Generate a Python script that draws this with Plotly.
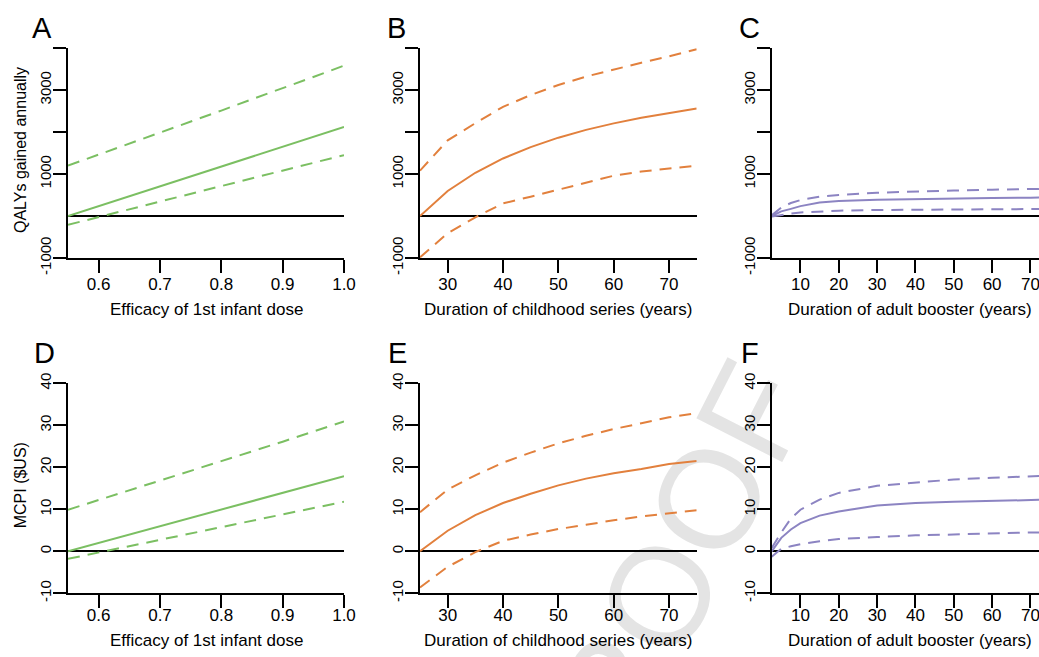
import plotly.graph_objects as go

W, H = 1039, 657

# ---------------- data ----------------
efficacy = [0.55, 0.6, 0.65, 0.7, 0.75, 0.8, 0.85, 0.9, 0.95, 1.0]
childhood = [25, 30, 35, 40, 45, 50, 55, 60, 65, 70, 75]
booster = [2.5, 5, 7.5, 10, 15, 20, 30, 40, 50, 60, 70, 75]

qaly_eff_mid = [0, 236, 471, 710, 942, 1178, 1413, 1649, 1884, 2120]
qaly_eff_hi = [1200, 1460, 1720, 1990, 2250, 2510, 2780, 3040, 3310, 3580]
qaly_eff_lo = [-210, -25, 160, 345, 530, 715, 900, 1085, 1265, 1450]

qaly_child_mid = [0, 595, 1030, 1370, 1640, 1865, 2050, 2205, 2340, 2450, 2560]
qaly_child_hi = [1080, 1800, 2210, 2600, 2880, 3120, 3320, 3490, 3650, 3800, 3970]
qaly_child_lo = [-985, -410, -30, 300, 460, 630, 800, 960, 1060, 1135, 1200]

qaly_boost_mid = [0, 110, 170, 235, 320, 357, 385, 405, 418, 428, 436, 440]
qaly_boost_hi = [15, 200, 310, 380, 460, 500, 555, 585, 605, 625, 643, 650]
qaly_boost_lo = [-15, 30, 60, 85, 110, 127, 143, 152, 159, 163, 167, 168]

mcpi_eff_mid = [0, 2.0, 4.0, 6.0, 8.0, 9.9, 11.9, 13.9, 15.9, 17.9]
mcpi_eff_hi = [9.9, 12.2, 14.5, 16.8, 19.2, 21.5, 23.8, 26.1, 28.5, 30.9]
mcpi_eff_lo = [-1.8, -0.3, 1.2, 2.7, 4.2, 5.7, 7.3, 8.8, 10.3, 11.8]

mcpi_child_mid = [0, 4.9, 8.6, 11.5, 13.7, 15.7, 17.3, 18.6, 19.6, 20.8, 21.5]
mcpi_child_hi = [9.3, 14.7, 18.1, 21.1, 23.5, 25.7, 27.5, 29.1, 30.5, 31.9, 32.9]
mcpi_child_lo = [-8.6, -3.7, -0.2, 2.5, 4.0, 5.3, 6.3, 7.4, 8.3, 9.1, 9.8]

mcpi_boost_mid = [0, 3.2, 5.2, 6.7, 8.5, 9.5, 10.9, 11.5, 11.8, 12.0, 12.2, 12.3]
mcpi_boost_hi = [0.8, 4.5, 7.8, 9.9, 12.3, 13.9, 15.6, 16.4, 17.1, 17.5, 17.9, 18.0]
mcpi_boost_lo = [-1.3, 0.6, 1.2, 1.7, 2.4, 2.9, 3.4, 3.8, 4.0, 4.3, 4.5, 4.5]

eff_ticks = [0.6, 0.7, 0.8, 0.9, 1.0]
eff_ticktext = ["0.6", "0.7", "0.8", "0.9", "1.0"]
child_ticks = [30, 40, 50, 60, 70]
boost_ticks = [10, 20, 30, 40, 50, 60, 70]
qaly_ticks = [-1000, 1000, 2000, 3000, 4000]
qaly_ticktext = ["-1000", "1000", "", "3000", ""]
mcpi_ticks = [-10, 0, 10, 20, 30, 40]
mcpi_ticktext = ["-10", "0", "10", "20", "30", "40"]

panel_letters = ["A", "B", "C", "D", "E", "F"]
x_titles = ["Efficacy of 1st infant dose",
            "Duration of childhood series (years)",
            "Duration of adult booster (years)"]
y_titles = ["QALYs gained annually", "MCPI ($US)"]

GREEN = "#7bbf62"
ORANGE = "#e2803d"
PURPLE = "#8c84c2"
FONT = "Liberation Sans, Arial, sans-serif"

# ---------------- layout geometry (pixels) ----------------
col_px = [(68, 344), (420, 696.7), (771.7, 1039)]
row_px = [(48, 258), (383.3, 593.3)]
x_ranges = [[0.55, 1.0], [25, 75], [2.5, 2.5 + (1039 - 771.7) / 3.8333]]
y_ranges = [[-1000, 4000], [-10, 40]]
x_label_standoff = [-3, -8]


def fx(p):
    return p / W


def fy(p):
    return 1 - p / H


fig = go.Figure()

panels = [
    (0, 0, efficacy, qaly_eff_mid, qaly_eff_hi, qaly_eff_lo, GREEN),
    (0, 1, childhood, qaly_child_mid, qaly_child_hi, qaly_child_lo, ORANGE),
    (0, 2, booster, qaly_boost_mid, qaly_boost_hi, qaly_boost_lo, PURPLE),
    (1, 0, efficacy, mcpi_eff_mid, mcpi_eff_hi, mcpi_eff_lo, GREEN),
    (1, 1, childhood, mcpi_child_mid, mcpi_child_hi, mcpi_child_lo, ORANGE),
    (1, 2, booster, mcpi_boost_mid, mcpi_boost_hi, mcpi_boost_lo, PURPLE),
]

layout_axes = {}
for i, (r, c, xs, mid, hi, lo, col) in enumerate(panels):
    n = i + 1
    xa = "x" if n == 1 else f"x{n}"
    ya = "y" if n == 1 else f"y{n}"
    for ys, dash in ((hi, "12px,8px"), (lo, "12px,8px"), (mid, "solid")):
        fig.add_trace(go.Scatter(x=xs, y=ys, mode="lines", xaxis=xa, yaxis=ya,
                                 line=dict(color=col, width=2, dash=dash),
                                 showlegend=False, hoverinfo="skip"))
    if c == 0:
        xt, xtt = eff_ticks, eff_ticktext
    elif c == 1:
        xt, xtt = child_ticks, [str(v) for v in child_ticks]
    else:
        xt, xtt = boost_ticks, [str(v) for v in boost_ticks]
    if r == 0:
        yt, ytt = qaly_ticks, qaly_ticktext
    else:
        yt, ytt = mcpi_ticks, mcpi_ticktext
    xkey = "xaxis" if n == 1 else f"xaxis{n}"
    ykey = "yaxis" if n == 1 else f"yaxis{n}"
    layout_axes[xkey] = dict(
        domain=[fx(col_px[c][0]), fx(col_px[c][1])], anchor=ya,
        range=x_ranges[c], showgrid=False, zeroline=False,
        showline=True, linecolor="black", linewidth=2,
        ticks="outside", ticklen=13, tickwidth=2, tickcolor="black",
        tickvals=xt, ticktext=xtt, ticklabelstandoff=x_label_standoff[r],
        ticklabeloverflow="allow", automargin=False,
        tickfont=dict(family=FONT, size=17, color="black"))
    layout_axes[ykey] = dict(
        domain=[fy(row_px[r][1]), fy(row_px[r][0])], anchor=xa,
        range=y_ranges[r], showgrid=False,
        zeroline=True, zerolinecolor="black", zerolinewidth=2,
        showline=True, linecolor="black", linewidth=2,
        ticks="outside", ticklen=13, tickwidth=2, tickcolor="black",
        tickvals=yt, ticktext=ytt, tickangle=-90, ticklabelstandoff=-4,
        ticklabeloverflow="allow", automargin=False,
        tickfont=dict(family=FONT, size=15, color="black"))

annotations = []
letter_pos = [(30, 27), (385, 27), (737, 27), (32, 352), (386, 352), (739, 352)]
for L, (px, py) in zip(panel_letters, letter_pos):
    annotations.append(dict(text=L, x=fx(px), y=fy(py + 1), xref="paper", yref="paper",
                            xanchor="left", yanchor="middle", showarrow=False,
                            font=dict(family=FONT, size=29, color="black")))
title_y = [309.5, 640]
for r in range(2):
    for c in range(3):
        cx = (col_px[c][0] + col_px[c][1]) / 2 if c < 2 else 909.7
        annotations.append(dict(text=x_titles[c], x=fx(cx), y=fy(title_y[r]),
                                xref="paper", yref="paper", xanchor="center",
                                yanchor="middle", showarrow=False,
                                font=dict(family=FONT, size=17, color="black")))
    annotations.append(dict(text=y_titles[r], x=fx(20), y=fy((row_px[r][0] + row_px[r][1]) / 2 - 3),
                            xref="paper", yref="paper", xanchor="center",
                            yanchor="middle", textangle=-90, showarrow=False,
                            font=dict(family=FONT, size=16, color="black")))

# faint "PROOF" watermark behind the plot
wm_cx, wm_cy = 648, 590
shapes = [dict(type="rect", xref="paper", yref="paper",
               x0=fx(wm_cx - 1), x1=fx(wm_cx + 1), y0=fy(wm_cy + 1), y1=fy(wm_cy - 1),
               line=dict(width=0), fillcolor="rgba(0,0,0,0)", layer="below",
               label=dict(text="PROOF", textangle=-63, textposition="middle center",
                          xanchor="center", yanchor="middle",
                          font=dict(family=FONT, size=140, color="#e4e4e4")))]

fig.update_layout(width=W, height=H,
                  margin=dict(l=0, r=0, t=0, b=0, pad=0, autoexpand=False),
                  paper_bgcolor="white", plot_bgcolor="rgba(0,0,0,0)",
                  annotations=annotations, shapes=shapes, **layout_axes)

fig.write_html("out.html", config={"displayModeBar": False},
               post_script="document.body.style.margin='0px';")
